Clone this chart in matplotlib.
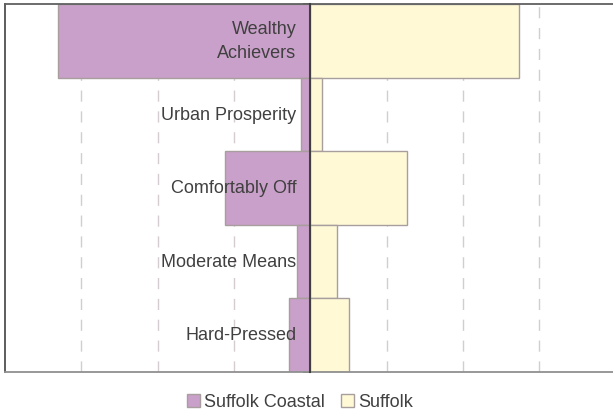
import matplotlib
matplotlib.use("Agg")
import matplotlib.pyplot as plt
from matplotlib.patches import Patch

categories = ["Wealthy\nAchievers", "Urban Prosperity", "Comfortably Off", "Moderate Means", "Hard-Pressed"]
suffolk_coastal = [33.0, 1.2, 11.2, 1.8, 2.8]
suffolk = [27.4, 1.5, 12.6, 3.5, 5.1]
series_names = ["Suffolk Coastal", "Suffolk"]

plt.rcParams['font.family'] = ['Liberation Sans', 'DejaVu Sans']
TXT = '#404040'
PURPLE = '#C9A0C9'
CREAM = '#FFF9D6'
EDGE = '#A89E9E'

fig = plt.figure(figsize=(6.13, 4.14), dpi=100)
ax = fig.add_axes([5/613, (414-372.5)/414, 608/613, (372.5-5)/414])

y = list(range(len(categories)))
ax.barh(y, [-v for v in suffolk_coastal], height=1.0, color=PURPLE, edgecolor=EDGE, linewidth=1.0, zorder=2)
ax.barh(y, suffolk, height=1.0, color=CREAM, edgecolor=EDGE, linewidth=1.0, zorder=2)

ax.set_xlim(-40, 39.65)
ax.set_ylim(len(categories) - 0.5, -0.5)

for gx in [-30, -20, -10, 10, 20, 30]:
    ax.axvline(gx, color='#D4CCD0', linewidth=1.0, dashes=(8, 7), zorder=1)

# centre axis with ticks at category boundaries
ax.spines['right'].set_position(('data', 0))
ax.spines['right'].set_color('#404040')
ax.spines['right'].set_linewidth(1.5)
ax.spines['right'].set_zorder(3)
ax.yaxis.set_ticks_position('right')
ax.set_yticks([i - 0.5 for i in range(len(categories) + 1)])
ax.tick_params(axis='y', direction='in', length=5, width=1.2, color='#404040', labelright=False, labelleft=False)
ax.set_xticks([])

ax.spines['left'].set_color('#505050')
ax.spines['left'].set_linewidth(1.3)
ax.spines['top'].set_color('#606060')
ax.spines['top'].set_linewidth(1.3)
ax.spines['bottom'].set_color('#909090')
ax.spines['bottom'].set_linewidth(1.3)

for i, lab in enumerate(categories):
    ax.annotate(lab, xy=(0, i), xytext=(-14, 0), textcoords='offset pixels',
                ha='right', va='center', fontsize=13, color=TXT, zorder=4,
                linespacing=1.55)

handles = [Patch(facecolor=PURPLE, edgecolor=EDGE), Patch(facecolor=CREAM, edgecolor=EDGE)]
fig.legend(handles, series_names, loc='center', bbox_to_anchor=(0.49, 1 - 403/414), ncol=2,
           frameon=False, fontsize=13, handlelength=0.7, handleheight=0.7,
           handletextpad=0.25, columnspacing=0.9, labelcolor=TXT)

fig.savefig('out.png', dpi=100)
